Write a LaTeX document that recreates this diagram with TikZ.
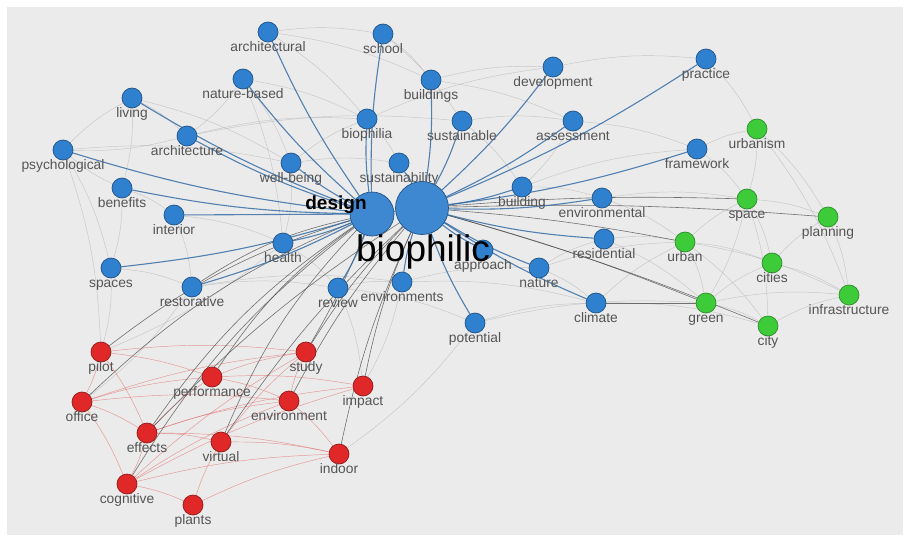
\documentclass[tikz,border=0pt]{standalone}
\usepackage{fontspec}
\setmainfont{Liberation Sans}
\usetikzlibrary{positioning}
\usepackage{xcolor}
\definecolor{mapbg}{HTML}{EBEBEB}
\definecolor{kwblue}{HTML}{2F80CF}
\definecolor{kwgreen}{HTML}{3DCB3A}
\definecolor{kwred}{HTML}{E02828}
\definecolor{kwtext}{HTML}{555555}
\definecolor{linkblue}{HTML}{2B66A3}
\definecolor{linkdark}{HTML}{474747}
\definecolor{linkred}{HTML}{E05A5A}
\definecolor{linkgray}{HTML}{A8A8A8}
\pgfdeclarelayer{panel}
\pgfdeclarelayer{links}
\pgfsetlayers{panel,links,main}

\begin{document}
\begin{tikzpicture}[x=1pt, y=-1pt, label distance=9pt,
    kw/.style={circle, minimum size=20pt, inner sep=0pt, line width=0.7pt},
    bluekw/.style={kw, fill=kwblue, draw=kwblue!65!black},
    greenkw/.style={kw, fill=kwgreen, draw=kwgreen!70!black},
    redkw/.style={kw, fill=kwred, draw=kwred!65!black},
    hub/.style={circle, inner sep=0pt, fill=kwblue, fill opacity=0.92, draw=kwblue!65!black, line width=0.7pt},
    kwlabel/.style={font=\fontsize{13.8}{14}\selectfont, text=kwtext, anchor=base, inner sep=0pt},
    strong/.style={linkblue, line width=1.1pt, opacity=0.8},
    dark/.style={linkdark, line width=0.6pt, opacity=0.75},
    redlink/.style={linkred, line width=0.45pt, opacity=0.6},
    faint/.style={linkgray, line width=0.45pt, opacity=0.55}]
    \useasboundingbox (0,0) rectangle (904,535);
    \begin{pgfonlayer}{panel}
      \fill[white] (0,0) rectangle (904,535);
      \fill[mapbg] (7,7) rectangle (903,535);
    \end{pgfonlayer}

    \foreach \n/\x/\y in {architectural/268/32, school/383/34, nature-based/243/79,
        living/132/98, buildings/431/80, development/553/67, practice/706/59,
        biophilia/367/119, sustainable/462/121, assessment/573/121,
        architecture/187/136, psychological/63/150, well-being/291/163,
        sustainability/399/163, framework/697/149, benefits/122/188,
        building/522/187, environmental/602/198, interior/174/215, health/283/243,
        residential/604/239, approach/483/250, nature/539/268, spaces/111/268,
        restorative/192/287, review/338/288, environments/402/282,
        climate/596/303, potential/475/323}
      \node[bluekw, label={[kwlabel]below:\n}] (\n) at (\x,\y) {};
    \foreach \n/\x/\y in {urbanism/757/129, space/747/199, planning/828/217,
        urban/685/242, cities/772/263, infrastructure/849/295, green/706/303,
        city/768/326}
      \node[greenkw, label={[kwlabel]below:\n}] (\n) at (\x,\y) {};
    \foreach \n/\x/\y in {pilot/101/352, study/306/352, performance/212/377,
        impact/363/386, office/82/402, environment/289/401, effects/147/433,
        virtual/221/442, indoor/339/454, cognitive/127/484, plants/193/505}
      \node[redkw, label={[kwlabel]below:\n}] (\n) at (\x,\y) {};

    \node[hub, minimum size=44pt] (design) at (372,214) {};
    \node[hub, minimum size=53pt] (biophilic) at (422,208) {};
    \node[font=\bfseries\fontsize{19}{19}\selectfont, anchor=base, inner sep=0pt] (designtxt) at (336,209) {design};
    \node[font=\fontsize{37}{37}\selectfont, anchor=base, inner sep=0pt] (biophilictxt) at (423,261) {biophilic};

    \begin{pgfonlayer}{links}
      % weak co-occurrence links
      \foreach \a/\b in {psychological/spaces, psychological/living, living/architecture,
          architecture/psychological, benefits/spaces, spaces/pilot, psychological/pilot,
          architectural/school, architectural/buildings, nature-based/biophilia,
          nature-based/health, school/buildings, buildings/development,
          development/practice, sustainable/assessment, assessment/framework,
          framework/urbanism, practice/urbanism, environmental/space, residential/urban,
          nature/climate, potential/climate, potential/green, environments/nature,
          review/potential, review/environments, restorative/environments,
          restorative/review, health/review, interior/health, benefits/interior,
          biophilia/sustainability, well-being/sustainability, well-being/biophilia,
          living/well-being, psychological/well-being, architecture/biophilia,
          building/framework, building/environmental, environmental/urban, nature/urban,
          climate/city, residential/green, architecture/sustainable, biophilia/development,
          nature-based/architecture, living/benefits, spaces/restorative, health/pilot,
          restorative/office, environments/climate, sustainable/building,
          buildings/assessment, school/sustainable, architectural/biophilia,
          nature/residential, potential/indoor, review/impact, environments/impact,
          climate/urban, framework/space, assessment/building, well-being/health,
          interior/restorative, benefits/psychological, nature-based/well-being}
        \draw[faint] (\a) to[bend left=8] (\b);
      % green cluster
      \foreach \a/\b in {urbanism/space, urbanism/planning, space/planning, urban/space,
          urban/cities, urban/green, green/city, cities/infrastructure,
          planning/infrastructure, city/infrastructure, space/green, space/city,
          cities/planning, urban/infrastructure, green/infrastructure,
          urbanism/infrastructure, space/cities, green/cities, urban/city}
        \draw[faint] (\a) to[bend left=8] (\b);
      % red cluster
      \foreach \a/\b in {pilot/study, performance/impact, office/environment,
          effects/indoor, cognitive/indoor, cognitive/study, office/study,
          effects/virtual, performance/study, effects/impact, virtual/indoor,
          pilot/office, office/cognitive, effects/cognitive, cognitive/plants,
          plants/virtual, plants/indoor, environment/study, environment/indoor,
          effects/environment, pilot/effects, office/effects, performance/environment,
          virtual/study, cognitive/environment, effects/performance,
          office/performance, pilot/performance, cognitive/impact}
        \draw[redlink] (\a) to[bend left=6] (\b);
      % links from the two hubs into the other clusters
      \foreach \b in {pilot, office, effects, virtual, performance, cognitive, restorative}
        \draw[dark] (design) to[bend right=10] (\b);
      \foreach \b in {study, indoor, impact, environment, effects, virtual}
        \draw[dark] (biophilic) to[bend right=6] (\b);
      \foreach \b in {urban, planning, city, green, space}
        \draw[dark] (biophilic) to[bend left=3] (\b);
      \draw[dark] (design) to[bend left=4] (study);
      \draw[dark] (climate) -- (green);
      % strongest links
      \foreach \b in {architectural, nature-based, living, architecture, psychological,
          benefits, spaces, restorative, health, well-being, biophilia, school, review}
        \draw[strong] (design) to[bend left=5] (\b);
      \draw[strong] (design) -- (interior);
      \draw[strong] (design) -- (biophilic);
      \foreach \b in {buildings, development, practice, framework, building,
          environmental, residential, nature, climate, potential, sustainability,
          sustainable, assessment, environments, approach}
        \draw[strong] (biophilic) to[bend right=5] (\b);
    \end{pgfonlayer}
  \end{tikzpicture}
\end{document}
